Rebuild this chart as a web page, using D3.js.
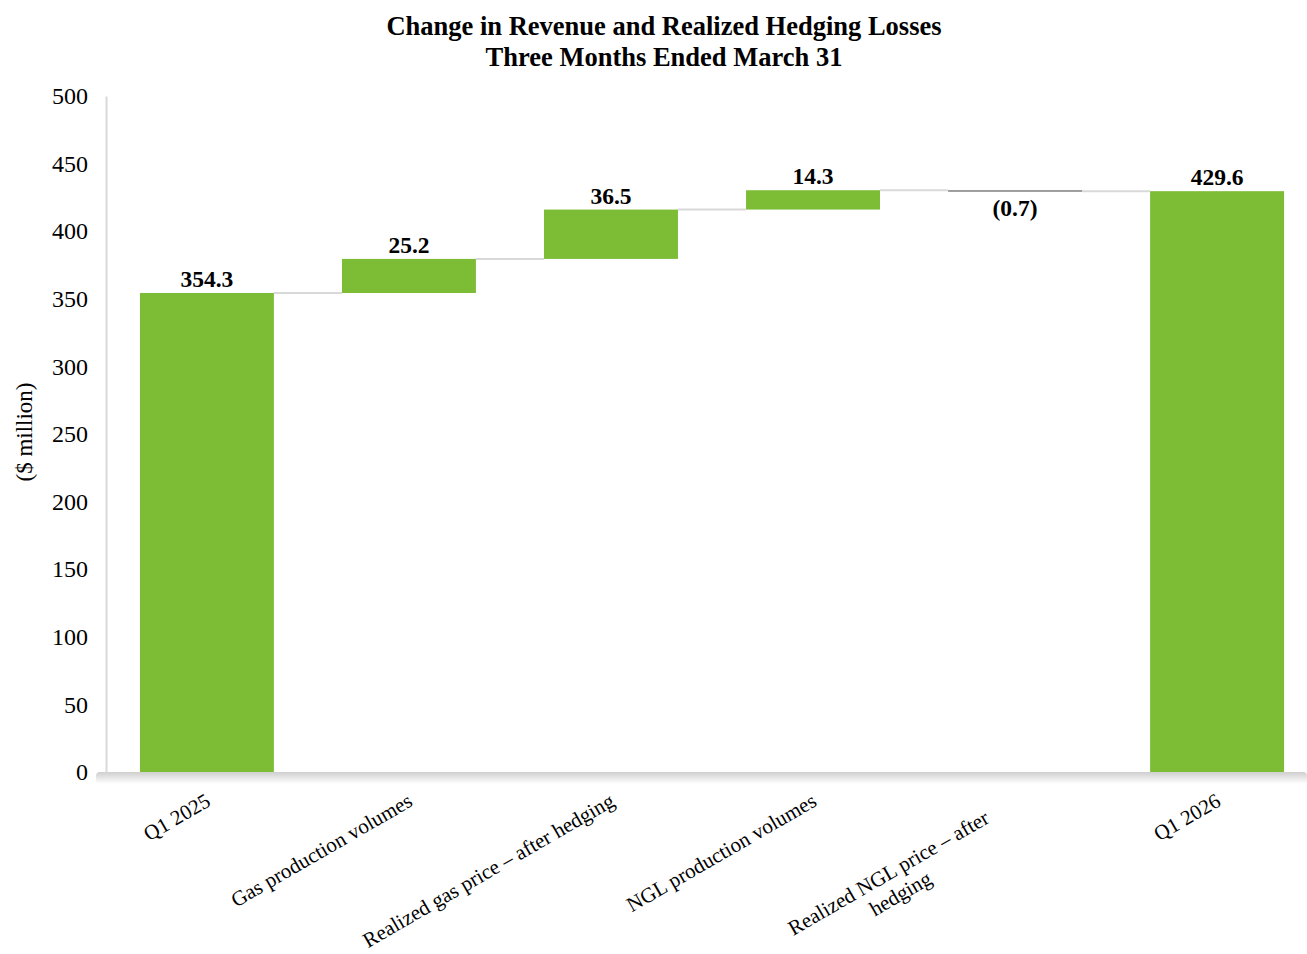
<!DOCTYPE html>
<html>
<head>
<meta charset="utf-8">
<script src="https://cdn.jsdelivr.net/npm/d3@7"></script>
<style>
  body { margin: 0; background: #fff; }
  text { font-family: "Liberation Serif", "Times New Roman", serif; fill: #000; }
</style>
</head>
<body>
<svg width="1307" height="954"></svg>
<script>
// chart data
var categories = ["Q1 2025", "Gas production volumes", "Realized gas price \u2013 after hedging",
                  "NGL production volumes", "Realized NGL price \u2013 after hedging", "Q1 2026"];
var labelLines = [["Q1 2025"], ["Gas production volumes"], ["Realized gas price \u2013 after hedging"],
                  ["NGL production volumes"], ["Realized NGL price \u2013 after", "hedging"], ["Q1 2026"]];
var values = [354.3, 25.2, 36.5, 14.3, -0.7, 429.6];
var kinds = ["total", "delta", "delta", "delta", "delta", "total"];
var valueLabels = ["354.3", "25.2", "36.5", "14.3", "(0.7)", "429.6"];
var yTicks = [0, 50, 100, 150, 200, 250, 300, 350, 400, 450, 500];

var svg = d3.select("svg"),
    margin = {left: 106, right: -11, top: 96, bottom: 182},
    width = +svg.attr("width"),
    height = +svg.attr("height");

var green = "#7cbd35";

// running totals
var running = 0;
var steps = categories.map(function (c, i) {
    var start, end;
    if (kinds[i] === "total") { start = 0; end = values[i]; running = values[i]; }
    else { start = running; end = running + values[i]; running = end; }
    return {name: c, lines: labelLines[i], start: start, end: end, value: values[i], label: valueLabels[i]};
});

var x = d3.scaleBand()
    .domain(categories)
    .range([margin.left, width - margin.right])
    .paddingInner(0.337)
    .paddingOuter(0.168);

var y = d3.scaleLinear()
    .domain([0, 500])
    .range([height - margin.bottom, margin.top]);

// title
var title = svg.append("text")
    .attr("text-anchor", "middle")
    .style("font-weight", "bold")
    .style("font-size", "26.5px");
title.append("tspan").attr("x", 664).attr("y", 35).text("Change in Revenue and Realized Hedging Losses");
title.append("tspan").attr("x", 664).attr("y", 66).text("Three Months Ended March 31");

// x axis shadow band
var defs = svg.append("defs");
var grad = defs.append("linearGradient").attr("id", "axisShade")
    .attr("x1", 0).attr("y1", 0).attr("x2", 0).attr("y2", 1);
grad.append("stop").attr("offset", "0%").attr("stop-color", "#cfcfcf");
grad.append("stop").attr("offset", "100%").attr("stop-color", "#ffffff");

svg.append("rect")
    .attr("x", 96)
    .attr("y", y(0))
    .attr("width", width - 96)
    .attr("height", 12)
    .attr("rx", 4)
    .attr("fill", "url(#axisShade)");

// y axis
var yAxis = svg.append("g")
    .attr("transform", "translate(" + margin.left + ",0)")
    .call(d3.axisLeft(y).tickValues(yTicks).tickSize(0).tickPadding(18));
yAxis.select(".domain").attr("stroke", "#d9d9d9").attr("stroke-width", 2);
yAxis.selectAll("text")
    .style("font-size", "24px")
    .style("font-family", "Liberation Serif, serif")
    .attr("fill", "#000");

svg.append("text")
    .attr("transform", "translate(32," + (y(250) - 2) + ") rotate(-90)")
    .attr("text-anchor", "middle")
    .style("font-size", "23px")
    .text("($ million)");

// connectors
svg.append("g")
    .selectAll("line")
    .data(steps.slice(0, -1))
    .enter().append("line")
    .attr("x1", function (d) { return x(d.name) + x.bandwidth(); })
    .attr("x2", function (d, i) { return x(steps[i + 1].name); })
    .attr("y1", function (d) { return y(d.end); })
    .attr("y2", function (d) { return y(d.end); })
    .attr("stroke", "#d9d9d9")
    .attr("stroke-width", 2);

// bars
svg.append("g")
    .selectAll("rect")
    .data(steps)
    .enter().append("rect")
    .attr("x", function (d) { return x(d.name); })
    .attr("width", x.bandwidth())
    .attr("y", function (d) { return y(Math.max(d.start, d.end)); })
    .attr("height", function (d) { return Math.max(1.5, Math.abs(y(d.start) - y(d.end))); })
    .attr("fill", function (d) { return d.value < 0 ? "#7f7f7f" : green; });

// value labels
svg.append("g")
    .selectAll("text")
    .data(steps)
    .enter().append("text")
    .attr("x", function (d) { return x(d.name) + x.bandwidth() / 2; })
    .attr("y", function (d) {
        return d.value < 0 ? y(Math.min(d.start, d.end)) + 25 : y(Math.max(d.start, d.end)) - 6;
    })
    .attr("text-anchor", "middle")
    .style("font-weight", "bold")
    .style("font-size", "23.5px")
    .text(function (d) { return d.label; });

// category labels, rotated
var cat = svg.append("g")
    .selectAll("g")
    .data(steps)
    .enter().append("g")
    .attr("transform", function (d) {
        return "translate(" + (x(d.name) + x.bandwidth() / 2 + 5) + "," + (y(0) + 33) + ") rotate(-30)";
    });

cat.each(function (d) {
    var g = d3.select(this);
    var shift = d.lines.length > 1 ? -34 : 0;
    var first = g.append("text")
        .attr("x", shift)
        .attr("text-anchor", "end")
        .style("font-size", "21px")
        .text(d.lines[0]);
    if (d.lines.length > 1) {
        var w = first.node().getComputedTextLength();
        g.append("text")
            .attr("x", shift - w / 2)
            .attr("y", 24)
            .attr("text-anchor", "middle")
            .style("font-size", "21px")
            .text(d.lines[1]);
    }
});
</script>
</body>
</html>
